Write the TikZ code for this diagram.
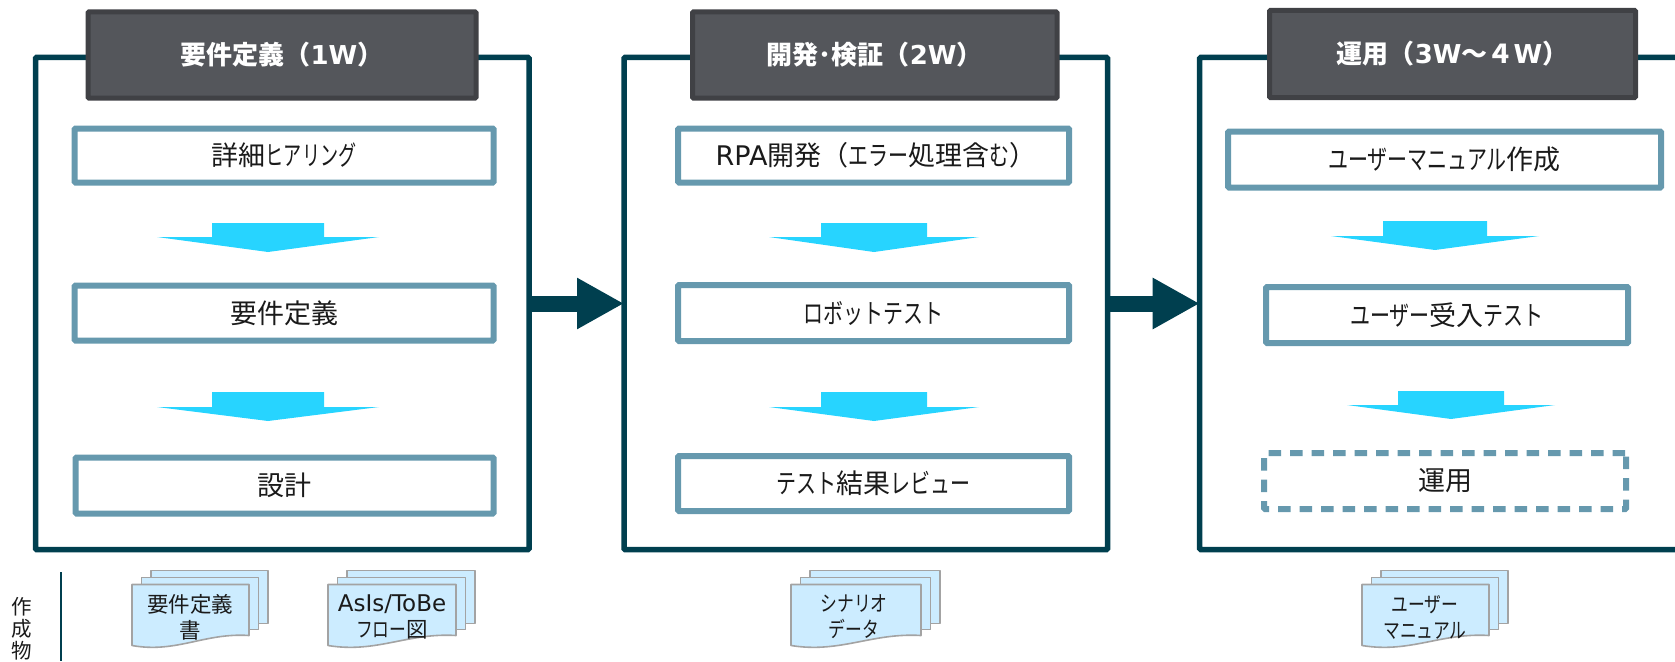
\documentclass[tikz,border=0pt]{standalone}
\usepackage{fontspec}
\usetikzlibrary{arrows.meta}
\setmainfont{Noto Sans CJK JP}
\newfontfamily\lat{DejaVu Sans}
\newfontfamily\kanafont{Noto Sans CJK JP}[FakeStretch=0.74]
\newfontfamily\kanatight{Noto Sans CJK JP}[FakeStretch=0.67]
\newfontfamily\kanadoc{Noto Sans CJK JP}[FakeStretch=0.78]
\newcommand{\kn}[1]{{\kanafont #1}}
\newcommand{\kt}[1]{{\kanatight #1}}
\newcommand{\kd}[1]{{\kanadoc #1}}
\newcommand{\la}[1]{{\lat #1}}
\definecolor{framec}{HTML}{003F4F}
\definecolor{headf}{HTML}{54565B}
\definecolor{headd}{HTML}{404145}
\definecolor{boxc}{HTML}{6699AE}
\definecolor{flowc}{HTML}{27D4FF}
\definecolor{docf}{HTML}{CCECFF}
\definecolor{docd}{HTML}{A3A3A3}
\definecolor{textc}{HTML}{1A1A1A}
\tikzset{
  framebox/.style={draw=framec,line width=5.5pt,rounded corners=1pt,outer sep=0pt,inner sep=0pt},
  headbox/.style={draw=headd,fill=headf,line width=5pt,rounded corners=1pt,text=white,font=\bfseries\fontsize{26}{30}\selectfont,outer sep=0pt,inner sep=0pt},
  inbox/.style={draw=boxc,fill=white,line width=6pt,rounded corners=1pt,text=textc,font=\fontsize{27}{32}\selectfont,outer sep=0pt,inner sep=0pt},
  dashbox/.style={inbox,dash pattern=on 12.5pt off 9pt},
  bigarrow/.style={draw=framec,line width=16pt,-{Triangle[length=47pt,width=48pt]}},
  sheet/.style={draw=docd,fill=docf,line width=1.6pt,line join=round},
  doctext/.style={text=textc,font=\fontsize{21.5}{26}\selectfont,align=center,inner sep=0pt},
  stacklabel/.style={text=textc,font=\fontsize{20.5}{22}\selectfont,align=center,inner sep=0pt},
  stackline/.style={draw=framec,line width=2pt}
}
% left, width of front sheet
\newcommand{\docstack}[2]{%
  \fill[sheet] (#1+19,570.5) rectangle (#1+19+#2,623.5);
  \fill[sheet] (#1+9.5,577.5) rectangle (#1+9.5+#2,629.5);
  \fill[sheet] (#1,584.5) -- (#1+#2,584.5) -- (#1+#2,635.5)
     .. controls (#1+0.62*#2,632.5) and (#1+0.38*#2,653.5) .. (#1,645.5) -- cycle;
}
% centre x, top y, shaft half width, head half width, shoulder y, tip y
\newcommand{\flowarrow}[6]{%
  \fill[flowc] (#1-#3,#2) -- (#1+#3,#2) -- (#1+#3,#5) -- (#1+#4,#5) -- (#1,#6) -- (#1-#4,#5) -- (#1-#3,#5) -- cycle;
}
\begin{document}
\begin{tikzpicture}[x=1pt,y=-1pt]
\useasboundingbox (0,0) rectangle (1675,661);
% frames
\node[framebox,minimum width=493.5pt,minimum height=492pt] (f1) at (282.25,303.5) {};
\node[framebox,minimum width=483.5pt,minimum height=492pt] (f2) at (865.75,303.5) {};
\node[framebox,minimum width=500.3pt,minimum height=492pt] (f3) at (1449.85,303.5) {};
% headers
\node[headbox,minimum width=388pt,minimum height=86pt] (h1) at (282,55) {要件定義（\la{1W}）};
\node[headbox,minimum width=364.5pt,minimum height=86pt] (h2) at (874.75,55) {開発･検証（\la{2W}）};
\node[headbox,minimum width=366pt,minimum height=87pt] (h3) at (1452.5,54) {運用（\la{3W}～４\la{W}）};
% column 1
\node[inbox,minimum width=419pt,minimum height=54pt] (a1) at (284.1,155.5) {詳細\kt{ヒアリング}};
\node[inbox,minimum width=419pt,minimum height=55pt] (a2) at (284.1,313) {要件定義};
\node[inbox,minimum width=418pt,minimum height=56pt] (a3) at (284.6,485.5) {設計};
% column 2
\node[inbox,minimum width=391pt,minimum height=54pt] (b1) at (873.5,155.5) {\hspace*{5pt}\la{RPA}開発（\kn{エラー}処理含\kn{む}）};
\node[inbox,minimum width=391pt,minimum height=56pt] (b2) at (873.5,313) {\kn{ロボットテスト}};
\node[inbox,minimum width=391pt,minimum height=55pt] (b3) at (873.5,483.5) {\kn{テスト}結果\kn{レビュー}};
% column 3
\node[inbox,minimum width=433pt,minimum height=56pt] (c1) at (1444.5,159.5) {\kn{ユーザーマニュアル}作成};
\node[inbox,minimum width=362pt,minimum height=56pt] (c2) at (1447,315) {\kn{ユーザー}受入\kn{テスト}};
\node[dashbox,minimum width=362pt,minimum height=56pt] (c3) at (1445,481) {運用};
% flow arrows
\flowarrow{268}{223}{56}{111}{237}{252}
\flowarrow{268}{392}{56}{111}{407}{421}
\flowarrow{874}{223}{53}{105}{237}{252}
\flowarrow{874}{392}{53}{105}{407}{421}
\flowarrow{1435}{221}{52}{104}{236}{250}
\flowarrow{1451}{391}{53}{104}{405}{419}
% phase arrows
\draw[bigarrow] (f1.east) -- (f2.west);
\draw[bigarrow] (f2.east) -- (f3.west);
% documents
\docstack{132}{117}
\docstack{328}{128}
\docstack{791}{130}
\docstack{1362}{127}
\node[doctext] (d1) at (190,617) {要件定義\\書};
\node[doctext] (d2) at (392,617) {{\lat\fontsize{23}{26}\selectfont AsIs/ToBe}\\\kd{フロー}図};
\node[doctext] (d3) at (854,617) {\kd{シナリオ}\\\kd{データ}};
\node[doctext] (d4) at (1425,617) {\kd{ユーザー}\\\kd{マニュアル}};
% label
\node[stacklabel] (lab) at (22,629) {作\\成\\物};
\coordinate (ls) at (61,572); \coordinate (le) at (61,661);
\draw[stackline] (ls) -- (le);
\end{tikzpicture}
\end{document}
